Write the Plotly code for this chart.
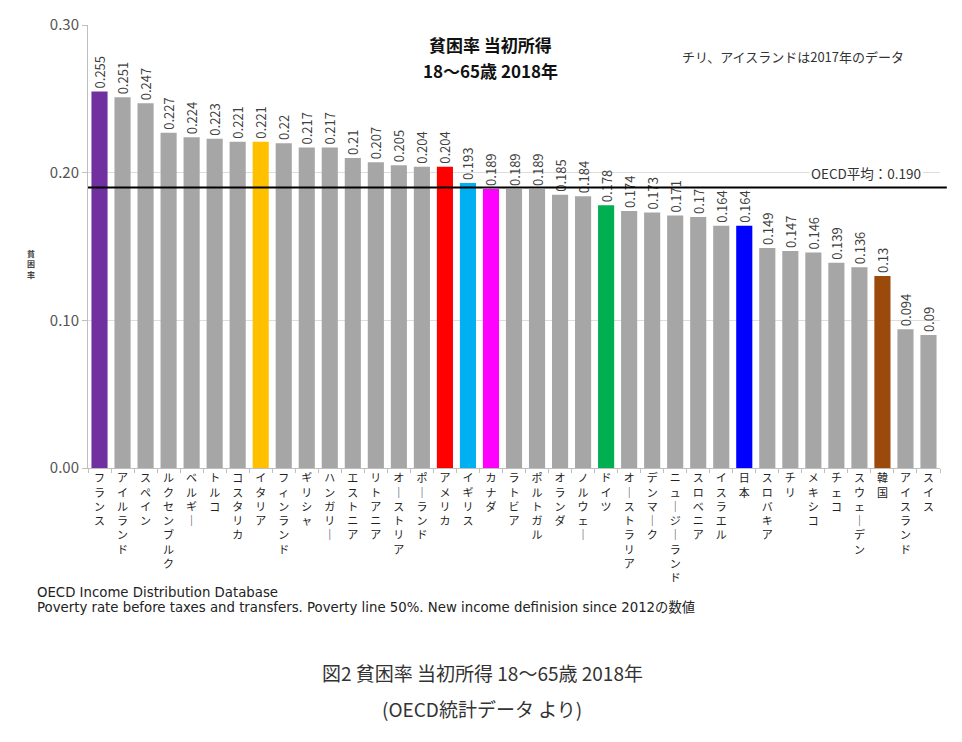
import plotly.graph_objects as go

# ---------------------------------------------------------------------------
# data
# ---------------------------------------------------------------------------
countries = [
    "フランス", "アイルランド", "スペイン", "ルクセンブルク", "ベルギー", "トルコ",
    "コスタリカ", "イタリア", "フィンランド", "ギリシャ", "ハンガリー", "エストニア",
    "リトアニア", "オーストリア", "ポーランド", "アメリカ", "イギリス", "カナダ",
    "ラトビア", "ポルトガル", "オランダ", "ノルウェー", "ドイツ", "オーストラリア",
    "デンマーク", "ニュージーランド", "スロベニア", "イスラエル", "日本", "スロバキア",
    "チリ", "メキシコ", "チェコ", "スウェーデン", "韓国", "アイスランド", "スイス",
]
poverty_rate = [
    0.255, 0.251, 0.247, 0.227, 0.224, 0.223,
    0.221, 0.221, 0.22, 0.217, 0.217, 0.21,
    0.207, 0.205, 0.204, 0.204, 0.193, 0.189,
    0.189, 0.189, 0.185, 0.184, 0.178, 0.174,
    0.173, 0.171, 0.17, 0.164, 0.164, 0.149,
    0.147, 0.146, 0.139, 0.136, 0.13, 0.094, 0.09,
]
highlight = {
    "フランス": "#7030A0",
    "イタリア": "#FFC000",
    "アメリカ": "#FF0000",
    "イギリス": "#00B0F0",
    "カナダ": "#FF00FF",
    "ドイツ": "#00B050",
    "日本": "#0000FF",
    "韓国": "#9C4A0C",
}
oecd_avg = 0.190

BAR_GRAY = "#A6A6A6"
JP_FONT = "Noto Sans CJK JP"
NOTE_FONT = "DejaVu Sans, Noto Sans CJK JP"


def vertical(label: str) -> str:
    # stack characters top-to-bottom (long vowel mark drawn vertically)
    return "<br>".join("｜" if ch == "ー" else ch for ch in label)


colors = [highlight.get(c, BAR_GRAY) for c in countries]

fig = go.Figure(
    go.Bar(
        x=countries,
        y=poverty_rate,
        text=[str(v) for v in poverty_rate],
        texttemplate="%{text}",
        marker=dict(color=colors, line=dict(width=0)),
        textposition="outside",
        textangle=-90,
        constraintext="none",
        cliponaxis=False,
        textfont=dict(size=13, color="#404040"),
        hoverinfo="x+y",
    )
)

# OECD average line
fig.add_shape(
    type="line", xref="paper", yref="y",
    x0=0, x1=1.008, y0=oecd_avg, y1=oecd_avg,
    line=dict(color="black", width=2), layer="above",
)
fig.add_annotation(
    xref="paper", yref="y", x=0.913, y=0.200, xanchor="center", yanchor="middle",
    text=f"OECD平均：{oecd_avg:.3f}", showarrow=False,
    font=dict(size=13.5, color="#333333"), bgcolor="white",
)

# titles / notes inside the chart
fig.add_annotation(
    xref="paper", yref="y", x=0.472, y=0.2868, xanchor="center", yanchor="middle",
    text="<b>貧困率 当初所得</b>", showarrow=False,
    font=dict(size=17, color="#111111"),
)
fig.add_annotation(
    xref="paper", yref="y", x=0.472, y=0.2695, xanchor="center", yanchor="middle",
    text="<b>18〜65歳 2018年</b>", showarrow=False,
    font=dict(size=17, color="#111111"),
)
fig.add_annotation(
    xref="paper", yref="y", x=0.827, y=0.279, xanchor="center", yanchor="middle",
    text="チリ、アイスランドは2017年のデータ", showarrow=False,
    font=dict(size=13, color="#333333"),
)
fig.add_annotation(
    xref="paper", yref="y", x=-0.067, y=0.138, xanchor="center", yanchor="middle",
    text="<b>貧<br>困<br>率</b>", showarrow=False,
    font=dict(size=8, color="#444444"),
)

# source notes and caption below the chart
fig.add_annotation(
    xref="paper", yref="paper", x=-0.062, y=-0.28, xanchor="left", yanchor="middle",
    text="OECD Income Distribution Database", showarrow=False,
    font=dict(size=13.3, color="#222222", family=NOTE_FONT),
)
fig.add_annotation(
    xref="paper", yref="paper", x=-0.062, y=-0.314, xanchor="left", yanchor="middle",
    text="Poverty rate before taxes and transfers. Poverty line 50%. "
         "New income definision since 2012の数値",
    showarrow=False, font=dict(size=13.3, color="#222222", family=NOTE_FONT),
)
fig.add_annotation(
    xref="paper", yref="paper", x=0.463, y=-0.461, xanchor="center", yanchor="middle",
    text="図2 貧困率 当初所得 18〜65歳 2018年", showarrow=False,
    font=dict(size=19, color="#333333"),
)
fig.add_annotation(
    xref="paper", yref="paper", x=0.463, y=-0.543, xanchor="center", yanchor="middle",
    text="(OECD統計データ より)", showarrow=False,
    font=dict(size=19, color="#333333"),
)

fig.update_xaxes(
    tickmode="array",
    tickvals=countries,
    ticktext=[vertical(c) for c in countries],
    tickangle=0,
    ticks="outside",
    tickson="boundaries",
    ticklen=4,
    tickcolor="#BFBFBF",
    showline=True,
    linecolor="#BFBFBF",
    tickfont=dict(size=11, color="#222222", family=JP_FONT),
    showgrid=False,
    automargin=False,
)
fig.update_yaxes(
    range=[0, 0.30],
    dtick=0.1,
    tickformat=".2f",
    ticks="outside",
    ticklen=5,
    tickcolor="#BFBFBF",
    showline=True,
    linecolor="#BFBFBF",
    gridcolor="#DDDDDD",
    tickfont=dict(size=15, color="#555555"),
    zeroline=False,
    automargin=False,
)

fig.update_layout(
    width=954,
    height=734,
    margin=dict(l=80, r=22, t=17, b=274),
    bargap=0.3,
    showlegend=False,
    plot_bgcolor="white",
    paper_bgcolor="white",
    font=dict(family=JP_FONT),
)

fig.write_html("out.html")
